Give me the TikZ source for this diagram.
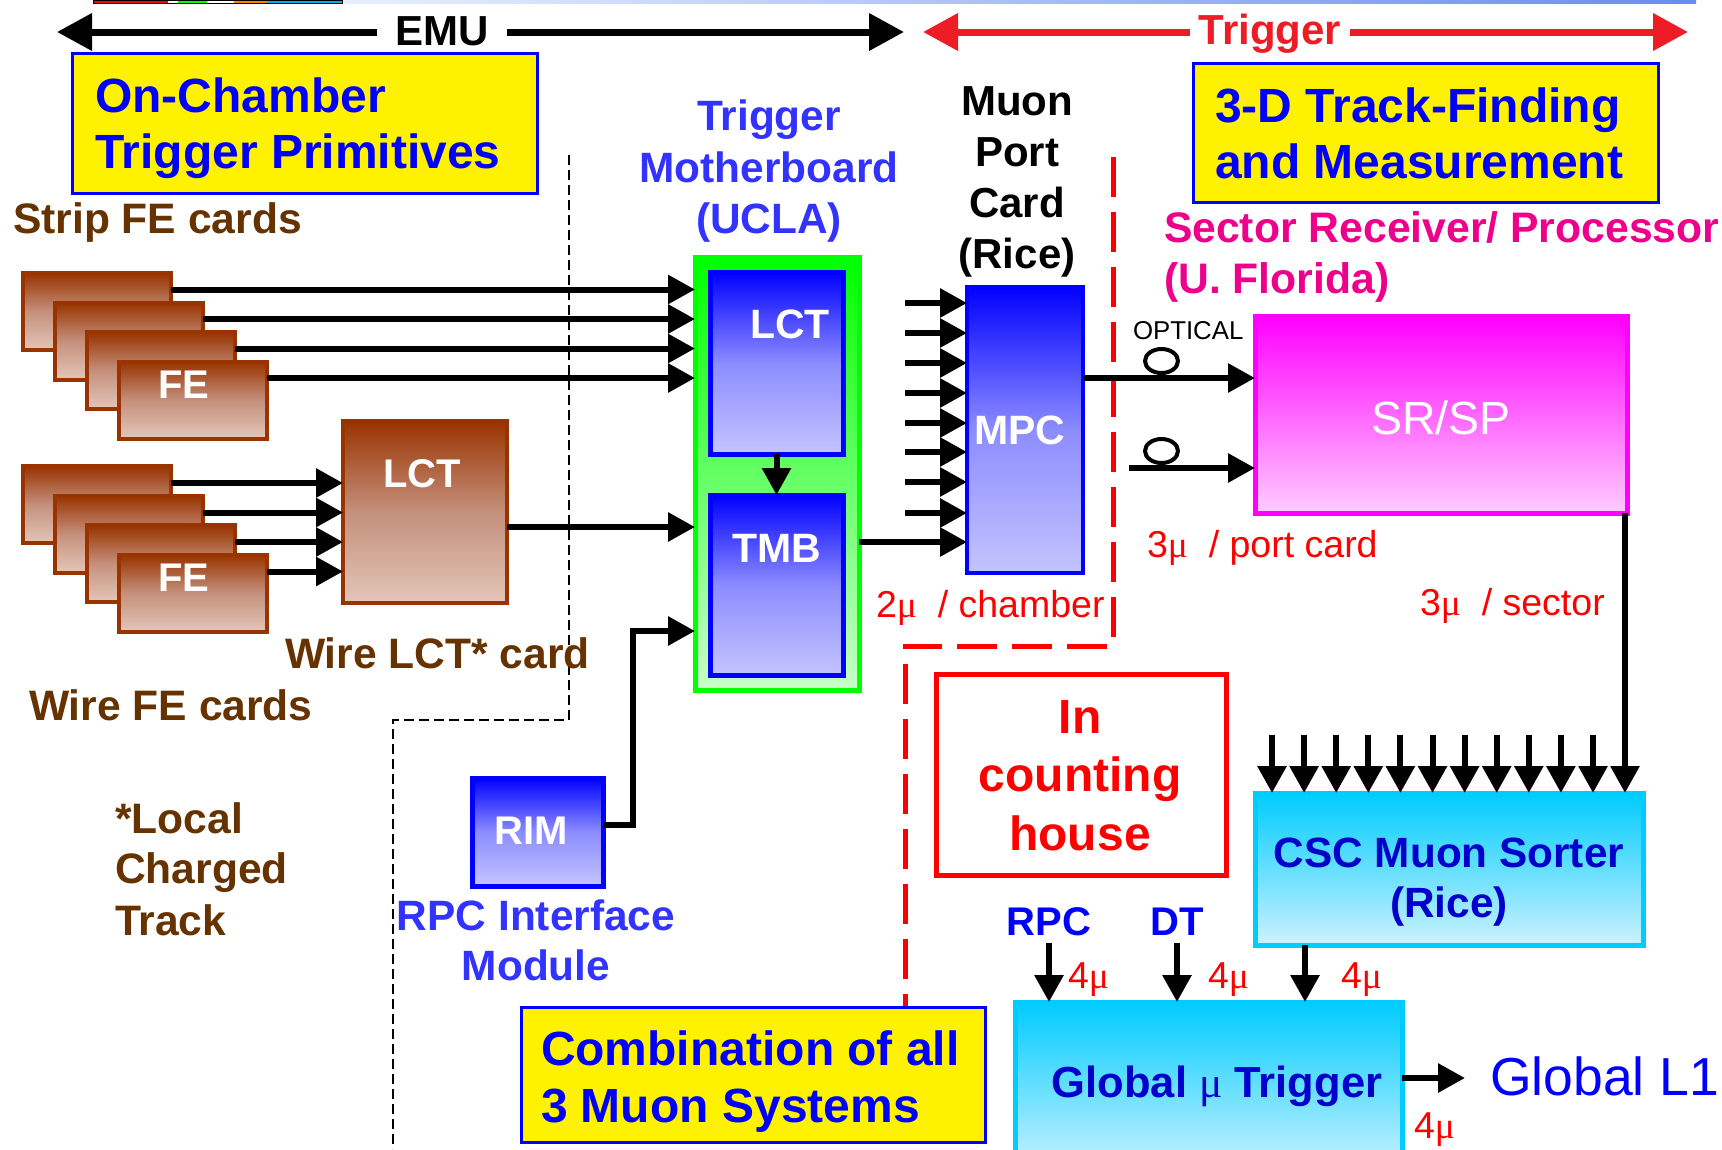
\documentclass[tikz,border=0pt]{standalone}
\usepackage{fontspec}
\setmainfont{Liberation Sans}
\newfontfamily\mufont{Liberation Serif}
\usetikzlibrary{arrows.meta,calc}
\definecolor{feTop}{HTML}{993300}
\definecolor{feMid}{HTML}{C4907C}
\definecolor{feBot}{HTML}{E4C6B8}
\definecolor{bTop}{HTML}{0000FF}
\definecolor{bMid}{HTML}{8C8CFF}
\definecolor{bBot}{HTML}{C4C4FF}
\definecolor{gTop}{HTML}{00FF00}
\definecolor{gBot}{HTML}{C8FFC8}
\definecolor{mTop}{HTML}{FF00FF}
\definecolor{mBot}{HTML}{FFCCFF}
\definecolor{cTop}{HTML}{00CCFF}
\definecolor{cBot}{HTML}{CCF2FF}
\definecolor{brownTxt}{HTML}{663300}
\definecolor{lightBlueTxt}{HTML}{3333FF}
\definecolor{darkBlueTxt}{HTML}{0000CC}
\definecolor{trigRed}{HTML}{EE1C24}
\definecolor{stripA}{HTML}{E8F0FF}
\definecolor{stripB}{HTML}{6A8CF0}
\newcommand{\fsz}[1]{\fontsize{#1}{#1}\selectfont}
\newcommand{\mumu}{{\mufont\mdseries μ}}
\begin{document}
\begin{tikzpicture}[x=1pt,y=-1pt,
  txt/.style={inner sep=0pt, outer sep=0pt},
  arr/.style={line width=6pt, -{Triangle[length=27pt,width=28pt]}},
  fe/.style={draw=feTop, line width=4pt, top color=feTop, bottom color=feBot, middle color=feMid,
     minimum width=148pt, minimum height=77pt, inner sep=0pt, outer sep=0pt, anchor=north west},
  bluebox/.style={draw=bTop, line width=5pt, top color=bTop, bottom color=bBot, middle color=bMid,
     inner sep=0pt, outer sep=0pt},
  greenbox/.style={draw=gTop, line width=5pt, top color=gTop, bottom color=gBot, inner sep=0pt, outer sep=0pt},
  magbox/.style={draw=mTop, line width=5pt, top color=mTop, bottom color=mBot, inner sep=0pt, outer sep=0pt},
  cyanbox/.style={draw=cTop, line width=5pt, top color=cTop, bottom color=cBot, inner sep=0pt, outer sep=0pt},
  ybox/.style={draw=blue, line width=3pt, fill=yellow, inner sep=0pt, outer sep=0pt},
  inbox/.style={txt, text=white, font=\fsz{41}\bfseries},
  brown/.style={txt, anchor=base west, text=brownTxt, font=\fsz{42.6}\bfseries},
  redlbl/.style={txt, anchor=base west, text=red, font=\fsz{37.5}},
  biglbl/.style={txt, anchor=base west, text=blue, font=\fsz{48}\bfseries}
]
\clip (0,0) rectangle (1722,1149);
\fill[white] (0,0) rectangle (1722,1149);

% slide remnants at the top edge
\fill[red] (93,0) rectangle (168,3);
\fill[green] (178,0) rectangle (207,3);
\fill[white] (207,0) rectangle (234,3);
\fill[orange] (234,0) rectangle (268,3);
\fill[cyan] (268,0) rectangle (342,3);
\draw[line width=1pt] (93,0) rectangle (342,3);
\shade[left color=stripA, right color=stripB] (343,0) rectangle (1696,3);

% dashed boundaries
\draw[line width=1.5pt, dash pattern=on 10pt off 5pt] (569,155) -- (569,720) -- (393,720) -- (393,1149);
\draw[red, line width=5pt, dash pattern=on 40pt off 15pt] (1113,157) -- (1113,646) -- (905,646) -- (905,1007);

% EMU / Trigger arrows
\coordinate (emuL) at (57,32);
\coordinate (emuR) at (904,32);
\coordinate (trgL) at (923,32);
\coordinate (trgR) at (1688,32);
\draw[line width=7pt, {Triangle[length=35pt,width=36pt]}-{Triangle[length=35pt,width=36pt]}] (emuL) -- (emuR);
\draw[trigRed, line width=7pt, {Triangle[length=35pt,width=36pt]}-{Triangle[length=35pt,width=36pt]}] (trgL) -- (trgR);
\node[txt, anchor=base, fill=white, inner xsep=18pt, font=\fsz{42}\bfseries] (emu) at (442,45) {EMU};
\node[txt, anchor=base, fill=white, inner xsep=9pt, text=trigRed, font=\fsz{42}\bfseries] (trg) at (1270,44) {Trigger};

% yellow title boxes
\node[ybox, minimum width=465pt, minimum height=140pt] (y1) at (304.5,123) {};
\node[biglbl] (y1a) at (95,112) {On-Chamber};
\node[biglbl] (y1b) at (95,168) {Trigger Primitives};
\node[ybox, minimum width=465pt, minimum height=139pt] (y2) at (1425.5,132.5) {};
\node[biglbl] (y2a) at (1215,122) {3-D Track-Finding};
\node[biglbl] (y2b) at (1215,178) {and Measurement};
\node[ybox, minimum width=464pt, minimum height=135pt] (y3) at (753,1074.5) {};
\node[biglbl] (y3a) at (541,1065) {Combination of all};
\node[biglbl] (y3b) at (541,1122) {3 Muon Systems};

% labels
\node[brown] (stripl) at (13,233) {Strip FE cards};
\node[brown] (wlctl) at (285,668) {Wire LCT* card};
\node[brown] (wfel) at (29,720) {Wire FE cards};
\node[brown] (lct1) at (115,833) {*Local};
\node[brown] (lct2) at (115,883) {Charged};
\node[brown] (lct3) at (115,935) {Track};

\node[txt, anchor=base, text=lightBlueTxt, font=\fsz{42.4}\bfseries] (tm1) at (769,130) {Trigger};
\node[txt, anchor=base, text=lightBlueTxt, font=\fsz{42.4}\bfseries] (tm2) at (769,182) {Motherboard};
\node[txt, anchor=base, text=lightBlueTxt, font=\fsz{42.4}\bfseries] (tm3) at (769,233) {(UCLA)};

\node[txt, anchor=base, font=\fsz{42}\bfseries] (mp1) at (1017,115) {Muon};
\node[txt, anchor=base, font=\fsz{42}\bfseries] (mp2) at (1017,166) {Port};
\node[txt, anchor=base, font=\fsz{42}\bfseries] (mp3) at (1017,217) {Card};
\node[txt, anchor=base, font=\fsz{42}\bfseries] (mp4) at (1017,268) {(Rice)};

\node[txt, anchor=base west, text=magenta, font=\fsz{42.7}\bfseries] (sr1) at (1164,242) {Sector Receiver/ Processor};
\node[txt, anchor=base west, text=magenta, font=\fsz{42.7}\bfseries] (sr2) at (1164,293) {(U. Florida)};

\node[txt, anchor=base, text=lightBlueTxt, font=\fsz{42.4}\bfseries] (rim1) at (536,930) {RPC Interface};
\node[txt, anchor=base, text=lightBlueTxt, font=\fsz{42.4}\bfseries] (rim2) at (536,980) {Module};

% strip FE cards
\node[fe] (s1) at (23,273) {};
\node[fe] (s2) at (55,302.5) {};
\node[fe] (s3) at (87,332) {};
\node[fe] (s4) at (119,361.5) {};
\node[inbox, font=\fsz{40}\bfseries] (s4t) at (184,385) {FE};

% wire FE cards
\node[fe] (w1) at (23,466) {};
\node[fe] (w2) at (55,495.5) {};
\node[fe] (w3) at (87,525) {};
\node[fe] (w4) at (119,554.5) {};
\node[inbox, font=\fsz{40}\bfseries] (w4t) at (184,578) {FE};

% wire LCT card
\node[fe, anchor=center, minimum width=164pt, minimum height=182pt] (wlct) at (425,512) {};
\node[inbox, font=\fsz{40}\bfseries] (wlctt) at (422,474) {LCT};

% trigger motherboard
\node[greenbox, minimum width=164pt, minimum height=433pt] (green) at (777,473.5) {};
\node[bluebox, minimum width=133pt, minimum height=182pt] (blct) at (776.5,363) {};
\node[inbox] (blctt) at (790,324) {LCT};
\node[bluebox, minimum width=133pt, minimum height=180pt] (tmb) at (776.5,585) {};
\node[inbox] (tmbt) at (777,548) {TMB};

% MPC
\node[bluebox, line width=4pt, minimum width=116pt, minimum height=286pt] (mpc) at (1025,430) {};
\node[inbox] (mpct) at (1020,430) {MPC};

% RIM
\node[bluebox, minimum width=131pt, minimum height=108pt] (rim) at (537.5,832) {};
\node[inbox, font=\fsz{40}\bfseries] (rimt) at (531,831) {RIM};

% SR/SP
\node[magbox, minimum width=372pt, minimum height=197pt] (srsp) at (1441,414.5) {};
\node[txt, text=white, font=\fsz{46.5}] (srspt) at (1441,418) {SR/SP};
\node[txt, anchor=base west, font=\fsz{25.8}] (opt) at (1133,339) {OPTICAL};

% counting house
\node[draw=red, line width=5pt, minimum width=290pt, minimum height=201pt, inner sep=0pt, outer sep=0pt] (house) at (1081,774.5) {};
\node[txt, anchor=base, text=red, font=\fsz{48}\bfseries] (h1) at (1080,733) {In};
\node[txt, anchor=base, text=red, font=\fsz{48}\bfseries] (h2) at (1080,791) {counting};
\node[txt, anchor=base, text=red, font=\fsz{48}\bfseries] (h3) at (1080,850) {house};

% CSC muon sorter
\node[cyanbox, minimum width=388pt, minimum height=152pt] (csc) at (1449,869) {};
\node[txt, anchor=base, text=darkBlueTxt, font=\fsz{42.3}\bfseries] (csc1) at (1449,867) {CSC Muon Sorter};
\node[txt, anchor=base, text=darkBlueTxt, font=\fsz{42.3}\bfseries] (csc2) at (1449,917) {(Rice)};

% global muon trigger
\node[cyanbox, minimum width=387pt, minimum height=170pt] (glob) at (1208.5,1087) {};
\node[txt, anchor=base, text=darkBlueTxt, font=\fsz{43.5}\bfseries] (globt) at (1217,1097) {Global \mumu\ Trigger};
\node[txt, anchor=base west, text=blue, font=\fsz{53.5}] (gl1) at (1490,1095) {Global L1};

\node[txt, anchor=base, text=blue, font=\fsz{40}\bfseries] (rpc) at (1049,935) {RPC};
\node[txt, anchor=base, text=blue, font=\fsz{40}\bfseries] (dt) at (1177,935) {DT};

% red multiplicity labels
\node[redlbl] (l2mu) at (876,617) {2\mumu\ \ / chamber};
\node[redlbl] (l3mu) at (1147,557) {3\mumu\ \ / port card};
\node[redlbl] (l3s) at (1420,615) {3\mumu\ \ / sector};
\node[redlbl] (l4a) at (1068,988) {4\mumu};
\node[redlbl] (l4b) at (1208,988) {4\mumu};
\node[redlbl] (l4c) at (1341,988) {4\mumu};
\node[redlbl] (l4d) at (1414,1138) {4\mumu};

% ---------- connectors ----------
\foreach \n in {s1,s2,s3,s4} {
  \coordinate (\n o) at ([yshift=-16.5pt]\n.north east);
  \draw[arr] (\n o) -- (\n o -| green.west);
}
\foreach \n in {w1,w2,w3,w4} {
  \coordinate (\n o) at ([yshift=-17pt]\n.north east);
  \draw[arr] (\n o) -- (\n o -| wlct.west);
}
\coordinate (wlcto) at ([yshift=-15pt]wlct.east);
\draw[arr] (wlcto) -- (wlcto -| green.west);
\draw[arr] (blct.south) -- (tmb.north);
\coordinate (rimo) at ([yshift=7pt]rim.east);
\draw[arr, line join=miter] (rimo) -- ++(30,0) |- (green.west |- 0,631);
\draw[arr] (green.east |- 0,542) -- (mpc.west |- 0,542);
\foreach \i/\y in {1/303,2/333,3/363,4/393,5/423,6/452,7/482,8/513} {
  \coordinate (mi\i) at (905,\y);
  \draw[arr] (mi\i) -- (mi\i -| mpc.west);
}
\coordinate (mpco) at (mpc.east |- 0,378);
\draw[arr] (mpco) -- (mpco -| srsp.west);
\coordinate (opt2) at (1129,468);
\draw[arr] (opt2) -- (opt2 -| srsp.west);
\draw[line width=4pt] (1161.5,361) ellipse [x radius=16.5pt, y radius=12pt];
\draw[line width=4pt] (1161.5,451) ellipse [x radius=16.5pt, y radius=12pt];

\coordinate (sro) at ([xshift=-2pt]srsp.south east);
\draw[arr] (sro) -- (sro |- csc.north);
\foreach \i in {0,...,10} {
  \coordinate (ci\i) at ({1272+32.1*\i},735);
  \draw[arr] (ci\i) -- (ci\i |- csc.north);
}
\coordinate (csco) at ([xshift=50pt]csc.south west);
\draw[arr] (csco) -- (csco |- glob.north);
\draw[arr] ([yshift=-8pt]rpc.south) -- (rpc.south |- glob.north);
\draw[arr] ([yshift=-8pt]dt.south) -- (dt.south |- glob.north);
\coordinate (globo) at (glob.east |- 0,1078);
\coordinate (goutE) at (1465,1078);
\draw[arr] (globo) -- (goutE);
\end{tikzpicture}
\end{document}
